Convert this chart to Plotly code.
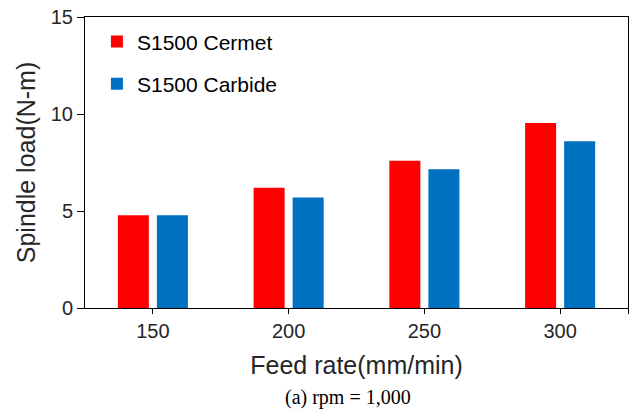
import plotly.graph_objects as go

# feed rate categories and spindle loads
feed_rate = [150, 200, 250, 300]
cermet = [4.78, 6.2, 7.59, 9.54]
carbide = [4.78, 5.7, 7.15, 8.59]
tick_labels = ["150", "200", "250", "300", ""]

fig = go.Figure()
fig.add_trace(go.Bar(x=feed_rate, y=cermet, name="S1500 Cermet",
                     marker=dict(color="#FF0000", line=dict(width=0)),
                     legendgroup="a"))
fig.add_trace(go.Bar(x=feed_rate, y=carbide, name="S1500 Carbide",
                     marker=dict(color="#0070C0", line=dict(width=0)),
                     legendgroup="b"))

# page body has an 8px margin, so the figure is 8px smaller than the window
fig.update_layout(
    width=629, height=404,
    margin=dict(l=77, r=9, t=9, b=104),
    paper_bgcolor="white", plot_bgcolor="white",
    barmode="group", bargap=0.425, bargroupgap=0.205,
    font=dict(family="Liberation Sans, Arial", size=21, color="#262626"),
    showlegend=True,
    legend=dict(x=0.022, y=0.985, xanchor="left", yanchor="top",
                bgcolor="rgba(0,0,0,0)", font=dict(size=21, color="#000000"),
                traceorder="grouped", tracegroupgap=12),
)

fig.update_xaxes(
    range=[125, 325], tickvals=feed_rate + [325], ticktext=tick_labels,
    tickfont=dict(size=20),
    showline=True, linecolor="black", linewidth=1, mirror=True,
    ticks="outside", ticklen=5, tickcolor="black", showgrid=False,
    zeroline=False, automargin=False,
    title=dict(text="Feed rate(mm/min)", standoff=15),
)
fig.update_yaxes(
    range=[0, 15], dtick=5, tickfont=dict(size=20),
    showline=True, linecolor="black", linewidth=1, mirror=True,
    ticks="outside", ticklen=7, tickcolor="black", showgrid=False,
    zeroline=False, automargin=False, ticklabeloverflow="allow",
    title=dict(text="Spindle load(N-m)", standoff=8),
)

fig.add_annotation(text="(a) rpm = 1,000", xref="paper", yref="paper",
                   x=0.484, y=-0.309, xanchor="center", yanchor="middle",
                   showarrow=False,
                   font=dict(family="Liberation Serif, Times New Roman", size=20, color="black"))

fig.write_html("out.html")
